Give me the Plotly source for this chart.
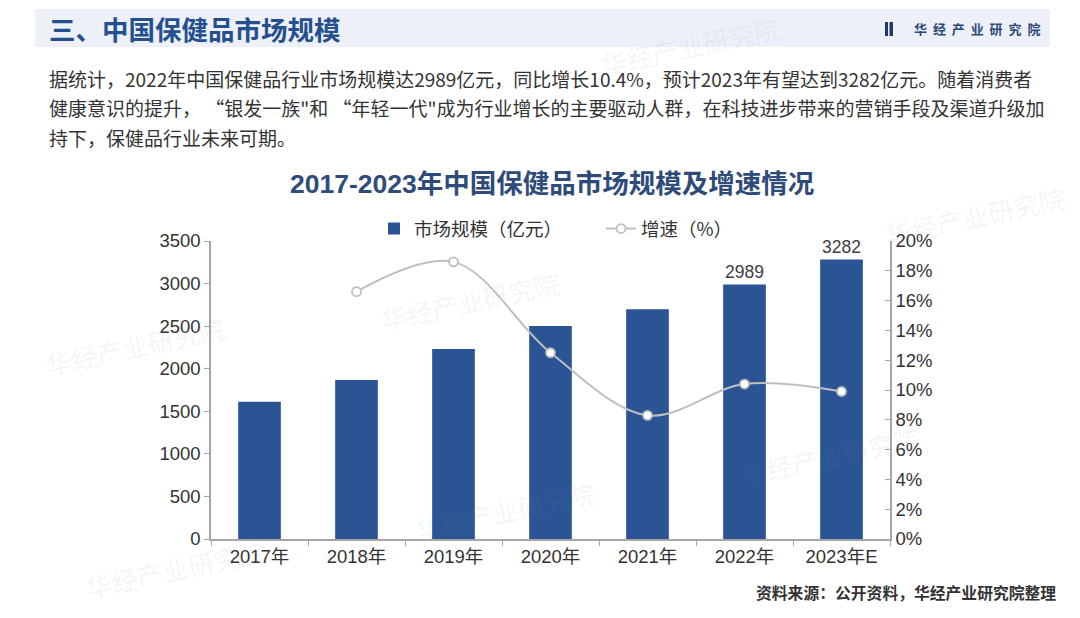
import plotly.graph_objects as go

# data
years = ["2017年", "2018年", "2019年", "2020年", "2021年", "2022年", "2023年E"]
market_size = [1612, 1867, 2232, 2502, 2698, 2989, 3282]      # 亿元
growth_rate = [None, 16.6, 18.6, 12.5, 8.3, 10.4, 9.9]          # %
labelled_years = ["2022年", "2023年E"]

para_lines = [
    "据统计，2022年中国保健品行业市场规模达2989亿元，同比增长10.4%，预计2023年有望达到3282亿元。随着消费者",
    "健康意识的提升， “银发一族\"和 “年轻一代\"成为行业增长的主要驱动人群，在科技进步带来的营销手段及渠道升级加",
    "持下，保健品行业未来可期。",
]

CJK = "Noto Sans CJK SC"
NUM = "Liberation Sans, Noto Sans CJK SC"
BAR_BLUE = "#2b5494"
LINE_GREY = "#bfbfbf"
AXIS_GREY = "#a6a6a6"
TXT = "#333333"

# plot area in page pixels (page has an 8px body margin)
L, R, T, B = 211, 890, 241, 539
OFF = 8


def px(x):
    return (x - L) / (R - L)


def py(y):
    return (B - y) / (B - T)


fig = go.Figure()

bar_text = [str(v) if yr in labelled_years else "" for yr, v in zip(years, market_size)]
fig.add_trace(go.Bar(
    x=years, y=market_size, name="市场规模（亿元）",
    marker=dict(color=BAR_BLUE, line=dict(width=0)),
    text=bar_text, textposition="outside", cliponaxis=False, constraintext="none",
    textfont=dict(family=NUM, size=17.5, color="#404040"),
))
fig.add_trace(go.Scatter(
    x=years, y=growth_rate, name="增速（%）", yaxis="y2",
    mode="lines+markers", line=dict(color=LINE_GREY, width=2, shape="spline"),
    marker=dict(size=9, color="white", line=dict(color=LINE_GREY, width=1.8)),
    connectgaps=False,
))


def note(x, y, text, size, color, anchor="left", family=CJK, angle=0):
    return dict(xref="paper", yref="paper", x=px(x), y=py(y), xanchor=anchor, yanchor="middle",
                text=text, showarrow=False, textangle=angle,
                font=dict(family=family, size=size, color=color))


annos = []
# header
annos.append(note(47, 29, "<b>三、中国保健品市场规模</b>", 26.5, "#24508f"))
annos.append(note(1042, 29, "<b>" + "\u00a0\u00a0".join("华经产业研究院") + "</b>", 13, "#2a4a7c",
                  anchor="right"))
# paragraph
for i, line in enumerate(para_lines):
    annos.append(note(47, 78 + 29.5 * i, line, 19, TXT))
# chart title
annos.append(note(552, 184, "<b>2017-2023年中国保健品市场规模及增速情况</b>", 26.5, "#2f4b7a",
                  anchor="center", family=NUM))
# source
annos.append(note(1058, 592, "<b>资料来源：公开资料，华经产业研究院整理</b>", 15.8, TXT, anchor="right"))
# faint watermarks
for wx, wy in [(470, 300), (135, 345), (505, 510), (175, 568), (830, 455), (690, 45), (975, 215)]:
    annos.append(note(wx, wy, "华经产业研究院", 26, "rgba(120,140,175,0.09)", anchor="center", angle=-12))

shapes = [
    dict(type="rect", xref="paper", yref="paper", x0=px(35), x1=px(1050), y0=py(47), y1=py(9),
         fillcolor="#edf0f6", line=dict(width=0), layer="below"),
    dict(type="rect", xref="paper", yref="paper", x0=px(885), x1=px(888), y0=py(36), y1=py(22),
         fillcolor="#1f3864", line=dict(width=0)),
    dict(type="rect", xref="paper", yref="paper", x0=px(889.5), x1=px(893), y0=py(36), y1=py(22),
         fillcolor="#1f3864", line=dict(width=0)),
]

tick_font = dict(family=NUM, size=18.5, color=TXT)

fig.update_layout(
    width=1080, height=618,
    margin=dict(l=L - OFF, r=1080 - (R - OFF), t=T - OFF, b=618 - (B - OFF), pad=0),
    paper_bgcolor="white", plot_bgcolor="white",
    font=dict(family=NUM, size=17, color=TXT),
    bargap=0.56,
    showlegend=True,
    legend=dict(orientation="h", x=px(374), y=py(229), xanchor="left", yanchor="middle",
                entrywidth=182, entrywidthmode="pixels",
                font=dict(family=CJK, size=18.5, color=TXT),
                bgcolor="rgba(0,0,0,0)"),
    xaxis=dict(type="category", showline=True, linecolor=AXIS_GREY, linewidth=1.5,
               ticks="outside", tickson="boundaries", ticklen=5, tickcolor=AXIS_GREY,
               tickfont=tick_font, showgrid=False),
    yaxis=dict(range=[0, 3500], dtick=500, showgrid=False, zeroline=False,
               showline=True, linecolor=AXIS_GREY, linewidth=1.5,
               ticks="outside", ticklen=5, tickcolor=AXIS_GREY, tickfont=tick_font),
    yaxis2=dict(overlaying="y", side="right", range=[0, 20], dtick=2, ticksuffix="%",
                showgrid=False, zeroline=False, showline=True, linecolor=AXIS_GREY,
                linewidth=1.5, ticks="inside", ticklen=5, tickcolor=AXIS_GREY,
                tickfont=tick_font),
    annotations=annos,
    shapes=shapes,
)

fig.write_html("out.html")
